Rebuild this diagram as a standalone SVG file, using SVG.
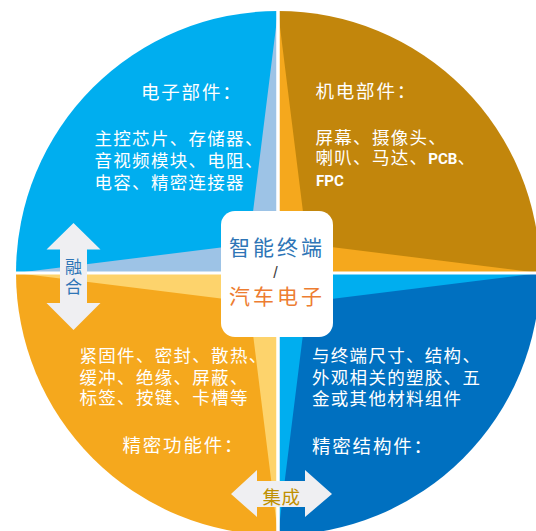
<svg xmlns="http://www.w3.org/2000/svg" width="536" height="531" viewBox="0 0 536 531">
<style>
.t{font-family:"Noto Sans CJK SC","Noto Sans",sans-serif;fill:#ffffff}
.h{font-size:18.5px;letter-spacing:1.8px}
.b{font-size:17.5px;letter-spacing:1.3px}
.lat{font-family:Roboto,"Liberation Sans",sans-serif;font-weight:bold;font-size:15px;letter-spacing:0}
.arrow{fill:#efeff2}
.div{stroke:#ffffff;fill:none}
</style>
<rect width="536" height="531" fill="#ffffff"/>
<g id="quadrant-electronic">
<path d="M278,273 L16,273 A262,262 0 0 1 278,11 Z" fill="#00aeef"/>
<path d="M278,11 L249,244 L16,273 L278,273 Z" fill="#9dc3e6"/>
<text class="t h" x="141" y="99">电子部件：</text>
<text class="t b"><tspan x="94.5" y="145">主控芯片、存储器、</tspan><tspan x="94.5" y="166.8">音视频模块、电阻、</tspan><tspan x="94.5" y="188.5">电容、精密连接器</tspan></text>
</g>
<g id="quadrant-electromech">
<path d="M278,273 L278,11 A262,262 0 0 1 540,273 Z" fill="#c2860c"/>
<path d="M278,11 L307,244 L540,273 L278,273 Z" fill="#f5a81d"/>
<text class="t h" x="315.5" y="98">机电部件：</text>
<text class="t b"><tspan x="315.5" y="143.5">屏幕、摄像头、</tspan><tspan x="315.5" y="164.2">喇叭、马达、<tspan class="lat">PCB</tspan>、</tspan><tspan class="lat" x="316" y="186">FPC</tspan></text>
</g>
<g id="quadrant-structural">
<path d="M278,273 L540,273 A262,262 0 0 1 278,535 Z" fill="#0070c0"/>
<path d="M540,273 L307,302 L278,535 L278,273 Z" fill="#00aeef"/>
<text class="t b"><tspan x="312" y="361.8">与终端尺寸、结构、</tspan><tspan x="312" y="383.5">外观相关的塑胶、五</tspan><tspan x="312" y="404.5">金或其他材料组件</tspan></text>
<text class="t h" x="312" y="453">精密结构件：</text>
</g>
<g id="quadrant-functional">
<path d="M278,273 L278,535 A262,262 0 0 1 16,273 Z" fill="#f5a81d"/>
<path d="M278,535 L249,302 L16,273 L278,273 Z" fill="#fdd36c"/>
<text class="t b"><tspan x="79.5" y="361.8">紧固件、密封、散热、</tspan><tspan x="79.5" y="383.5">缓冲、绝缘、屏蔽、</tspan><tspan x="79.5" y="403.5">标签、按键、卡槽等</tspan></text>
<text class="t h" x="122.5" y="452.2">精密功能件：</text>
</g>
<g id="dividers">
<line class="div" x1="278" y1="0" x2="278" y2="531" stroke-width="3.5"/>
<line class="div" x1="0" y1="273" x2="536" y2="273" stroke-width="3"/>
</g>
<g id="center">
<rect x="221" y="211" width="112" height="126" rx="14" fill="#ffffff"/>
<text x="277" y="254.7" text-anchor="middle" font-family="'Noto Sans CJK SC',sans-serif" font-size="21" letter-spacing="3" fill="#2e75b6">智能终端</text>
<text x="275.5" y="277.5" text-anchor="middle" font-family="'Liberation Sans',sans-serif" font-size="16" fill="#404040">/</text>
<text x="277" y="304" text-anchor="middle" font-family="'Noto Sans CJK SC',sans-serif" font-size="21" letter-spacing="3" fill="#ed7d31">汽车电子</text>
</g>
<g id="connectors">
<g id="arrow-fusion">
<polygon class="arrow" points="73.5,223 100.5,249.5 87,249.5 87,303 100.5,303 73.5,330 46.5,303 60,303 60,249.5 46.5,249.5"/>
<text x="73.5" y="258" writing-mode="tb" font-family="'Noto Sans CJK SC',sans-serif" font-size="17" letter-spacing="3.3" fill="#2e75b6">融合</text>
</g>
<g id="arrow-integration">
<polygon class="arrow" points="231,494 257,470 257,481 305,481 305,470 332,494 305,517 305,507 257,507 257,517"/>
<text x="281.5" y="503.5" text-anchor="middle" font-family="'Noto Sans CJK SC',sans-serif" font-size="18.5" letter-spacing="0.5" fill="#bf9000">集成</text>
</g>
</g>
</svg>
